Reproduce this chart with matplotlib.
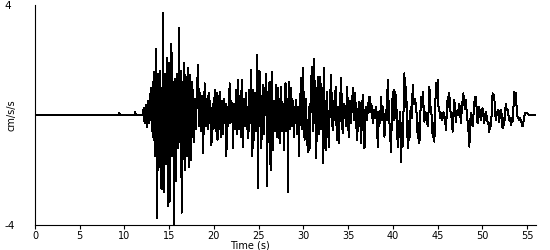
import matplotlib
matplotlib.use("Agg")
import matplotlib.pyplot as plt

# accelerogram, (time s, acceleration cm/s/s)
quiet = [(0.0, 0.0), (9.3, 0.0), (9.4, 0.08), (9.5, 0.0), (11.1, 0.0), (11.2, 0.1), (11.3, 0.0)]

onset = [(12.0, 0.0), (12.15, 0.25), (12.25, -0.3), (12.4, 0.35), (12.5, -0.45),
         (12.65, 0.5), (12.75, -0.3), (12.94, 1.0), (13.05, -0.6), (13.15, 1.2),
         (13.25, -0.9), (13.35, 1.56), (13.45, -1.5), (13.55, 2.4), (13.65, -3.75),
         (13.78, 1.5), (13.88, -1.9), (13.97, 1.6), (14.05, 0.8), (14.14, -2.7),
         (14.22, -0.5), (14.32, 3.7), (14.45, -2.8), (14.55, 1.5), (14.65, -1.8),
         (14.75, 2.07), (14.85, -3.3), (14.95, 1.9), (15.05, -3.15), (15.15, -0.8),
         (15.25, 2.6), (15.35, -1.5), (15.45, 1.2), (15.55, -3.95), (15.65, 1.3),
         (15.75, -2.4), (15.85, 1.5), (15.95, -1.2), (16.1, 3.15), (16.2, -1.0),
         (16.3, 1.6), (16.4, -3.55), (16.5, 1.2), (16.6, -1.6), (16.7, 1.9),
         (16.8, -2.0), (16.9, 1.4), (17.0, -1.5), (17.1, 1.7), (17.2, -1.9)]

strong = [(17.3, 1.45), (17.4, -1.64), (17.5, 1.2), (17.6, -0.8), (17.7, 0.9), (17.8, -1.0),
          (17.9, 0.6), (18.0, -0.5), (18.1, 0.9), (18.23, 1.82), (18.35, -0.4), (18.45, 0.8),
          (18.55, -0.6), (18.65, 0.7), (18.79, -1.4), (18.9, 0.3), (18.97, 1.15), (19.1, -0.4),
          (19.2, 0.6), (19.3, -0.5), (19.4, 0.8), (19.5, -0.3), (19.6, 0.5), (19.72, -1.1),
          (19.85, 0.4), (19.95, -0.5), (20.09, 0.9), (20.2, -0.6), (20.3, 0.8), (20.4, -0.9),
          (20.5, 0.7), (20.6, -0.5), (20.7, 0.85), (20.8, -0.8), (20.9, 0.5), (21.0, -0.7),
          (21.1, 0.6), (21.2, -0.3), (21.3, 0.4), (21.39, -1.5), (21.5, 0.3), (21.6, -0.4),
          (21.76, 1.15), (21.85, -0.3), (21.95, 0.5), (22.05, 0.2), (22.13, -1.2), (22.25, 0.4),
          (22.35, -0.5), (22.45, 0.9), (22.55, -0.7), (22.7, 1.27), (22.8, -0.5), (22.9, 0.7),
          (23.0, -0.8), (23.1, 1.27), (23.25, -1.15), (23.35, 0.6), (23.45, -0.4), (23.55, 0.8),
          (23.65, -0.5), (23.75, 0.3), (23.85, -0.85), (23.95, 0.9), (24.05, -0.3), (24.12, 1.64),
          (24.3, -1.5), (24.4, 0.9), (24.5, -0.9), (24.6, 0.8), (24.7, -0.6), (24.85, 2.18),
          (24.93, -2.65), (25.0, 1.6), (25.1, -0.4), (25.15, 1.58), (25.3, -1.2), (25.4, 0.5),
          (25.48, 1.1), (25.6, -0.7), (25.7, 0.6), (25.85, 1.5), (25.93, -2.6), (26.05, 0.7),
          (26.22, 1.2), (26.33, -2.0), (26.48, 1.58), (26.6, -1.27), (26.7, 0.5), (26.8, -0.6),
          (26.97, 1.1), (27.05, -0.8), (27.15, 1.0), (27.25, 0.4), (27.34, -1.03), (27.43, 0.5),
          (27.52, 1.03), (27.62, -0.6), (27.72, 0.4), (27.82, -1.27), (27.9, 0.5), (28.0, 1.15),
          (28.1, -0.6), (28.2, 0.6), (28.27, -2.79), (28.38, 1.21), (28.5, -0.5), (28.64, 0.97),
          (28.75, -0.4), (28.85, 0.5), (28.94, -0.8), (29.05, 0.3), (29.1, -0.3), (29.2, 0.55),
          (29.3, -0.7), (29.4, 0.3), (29.5, -1.5), (29.6, 0.2), (29.75, 1.33), (29.85, -0.5),
          (29.94, 1.7), (30.05, 0.4), (30.13, -0.9), (30.25, 0.6), (30.35, -0.5), (30.5, -1.33),
          (30.6, 0.3), (30.68, -1.27), (30.8, 0.5), (30.94, 1.76), (31.05, -0.6), (31.17, 2.03),
          (31.3, 0.6), (31.43, -1.58), (31.6, 1.39), (31.7, -0.7), (31.8, -0.4), (31.9, 1.39)]

coda = [(32.0, -0.5), (32.1, 1.0), (32.18, -1.76), (32.28, 1.7), (32.38, -0.5), (32.48, -1.27),
        (32.55, 0.3), (32.63, 0.85), (32.75, -0.4), (32.85, -1.15), (32.95, 0.4), (33.11, 1.45),
        (33.2, -0.3), (33.3, -0.55), (33.4, 0.5), (33.5, -0.2), (33.6, 1.03), (33.74, -0.91),
        (33.85, 0.3), (33.97, -1.03), (34.1, 0.5), (34.23, 1.33), (34.32, -0.3), (34.41, -0.67),
        (34.55, 0.4), (34.71, 0.18), (34.8, -0.4), (34.9, 1.03), (35.0, -0.3), (35.08, -0.79),
        (35.2, 0.5), (35.3, -0.3), (35.42, 0.3), (35.53, 0.97), (35.65, -0.2), (35.79, 0.79),
        (35.9, -0.3), (36.01, -0.91), (36.15, 0.2), (36.27, 0.48), (36.37, -0.3), (36.46, -1.03),
        (36.55, 0.2), (36.64, 0.73), (36.75, -0.3), (36.83, -1.21), (36.95, 0.3), (37.1, -0.2),
        (37.25, 0.4), (37.39, 0.67), (37.5, 0.1), (37.6, 0.4), (37.76, -0.3), (37.9, 0.2),
        (38.0, -0.1), (38.15, 0.3), (38.32, -1.15), (38.45, 0.1), (38.55, -0.3), (38.69, 0.67),
        (38.8, -0.2), (38.9, 0.3), (39.06, -0.79), (39.2, 0.2), (39.3, -0.2), (39.43, 1.27),
        (39.55, 0.2), (39.65, -0.5), (39.8, -1.33), (39.9, 0.24), (40.0, 0.85), (40.1, -0.2),
        (40.18, 0.91), (40.28, -0.1), (40.36, 0.73), (40.45, -0.3), (40.55, -1.15), (40.65, -0.2),
        (40.74, -0.79), (40.82, 0.1), (40.92, -1.7), (41.02, -0.3), (41.1, -1.15), (41.2, 0.3),
        (41.29, 1.52), (41.38, 0.3), (41.48, 1.03), (41.58, -0.2), (41.67, -1.21), (41.75, -0.2),
        (41.85, -0.91), (41.95, 0.1), (42.04, 0.3), (42.12, -0.1), (42.22, 1.09), (42.32, 0.4),
        (42.45, 0.6), (42.6, 0.3), (42.7, -0.2), (42.78, -0.85), (42.88, -0.3), (42.97, -1.03),
        (43.05, -0.2), (43.15, 0.67), (43.25, 0.3), (43.34, 0.85), (43.45, 0.2), (43.52, -0.24),
        (43.62, 0.1), (43.71, 0.06), (43.8, -0.1), (43.9, -0.42), (44.0, 0.2), (44.08, 1.03),
        (44.18, 0.3), (44.27, 0.3), (44.36, -0.2), (44.45, -0.79), (44.55, -0.3), (44.64, -0.97),
        (44.73, 0.2), (44.82, 1.15), (44.92, 0.6), (45.01, 1.27), (45.1, 0.3), (45.2, 0.18),
        (45.3, -0.1), (45.38, 0.06), (45.48, -0.2), (45.57, -0.12), (45.66, 0.1), (45.75, 0.0),
        (45.85, -0.2), (45.94, -0.55), (46.03, 0.1), (46.13, 0.67), (46.22, 0.3), (46.31, 0.79),
        (46.4, 0.2), (46.5, 0.06), (46.6, -0.2), (46.68, -0.61), (46.78, 0.1), (46.87, 0.55),
        (46.96, 0.1), (47.06, -0.24), (47.15, 0.1), (47.24, 0.18), (47.34, 0.0), (47.43, 0.42),
        (47.52, 0.1), (47.61, -0.3)]

tail = [(47.7, 0.2), (47.8, 0.55), (47.88, 0.79), (47.98, 0.4), (48.08, 0.2), (48.17, 0.55),
        (48.27, 0.0), (48.36, -0.24), (48.46, -0.6), (48.55, -1.15), (48.64, -0.3), (48.73, 0.06),
        (48.82, -0.1), (48.92, -0.42), (49.05, 0.2), (49.18, 0.67), (49.29, 0.67), (49.38, 0.1),
        (49.47, -0.3), (49.56, 0.0), (49.66, 0.3), (49.75, 0.0), (49.85, -0.18), (49.94, 0.1),
        (50.03, 0.24), (50.12, 0.0), (50.22, -0.3), (50.3, 0.0), (50.4, 0.12), (50.5, -0.1),
        (50.59, -0.24), (50.68, -0.3), (50.78, -0.61), (50.87, -0.3), (50.96, -0.42), (51.05, 0.1),
        (51.15, 0.79), (51.24, 0.6), (51.33, 0.73), (51.42, 0.1), (51.52, -0.18), (51.6, 0.1),
        (51.71, 0.0), (51.8, 0.2), (51.89, -0.24), (51.98, 0.1), (52.08, 0.18), (52.17, 0.0),
        (52.26, -0.48), (52.36, -0.1), (52.45, -0.36), (52.54, 0.1), (52.63, 0.42), (52.72, 0.2),
        (52.82, 0.18), (52.92, 0.0), (53.01, -0.18), (53.1, -0.1), (53.19, -0.36), (53.28, -0.1),
        (53.38, -0.24), (53.47, 0.2), (53.56, 0.85), (53.65, 0.6), (53.75, 0.79), (53.84, 0.2),
        (53.94, -0.06), (54.03, -0.1), (54.12, -0.18), (54.22, -0.1), (54.31, -0.24), (54.4, -0.3),
        (54.49, -0.42), (54.58, -0.3), (54.68, -0.06), (54.77, 0.05), (54.86, 0.08), (54.96, 0.06),
        (55.05, 0.06), (55.24, 0.0), (55.9, 0.0)]

x_ticks = [0, 5, 10, 15, 20, 25, 30, 35, 40, 45, 50, 55]
y_ticks = [-4, 4]

trace = quiet + onset + strong + coda + tail
t = [p[0] for p in trace]
acc = [p[1] for p in trace]

plt.rcParams['font.family'] = 'DejaVu Sans'
fig = plt.figure(figsize=(5.5, 2.5), dpi=100)
ax = fig.add_axes([35 / 550, 25 / 250, 501 / 550, 220 / 250])
ax.plot(t, acc, color='black', linewidth=0.72, antialiased=False)

ax.set_xlim(0, 56)
ax.set_ylim(-4, 4)
ax.set_xticks(x_ticks)
ax.set_xticklabels([str(v) for v in x_ticks], fontsize=7)
ax.set_yticks(y_ticks)
ax.set_yticklabels([str(v) for v in y_ticks], fontsize=7.5)
ax.tick_params(axis='x', direction='out', length=3, width=0.8, pad=1)
ax.tick_params(axis='y', length=0, pad=22)
for lab in ax.get_yticklabels():
    lab.set_horizontalalignment('left')
for side in ['top', 'right']:
    ax.spines[side].set_visible(False)
for side in ['left', 'bottom']:
    ax.spines[side].set_linewidth(0.8)

fig.text(250 / 550, 1 - 245 / 250, 'Time (s)', ha='center', va='center', fontsize=7)
fig.text(12 / 550, 1 - 115 / 250, 'cm/s/s', rotation=90, ha='center', va='center', fontsize=7)

fig.savefig('out.png', dpi=100)
